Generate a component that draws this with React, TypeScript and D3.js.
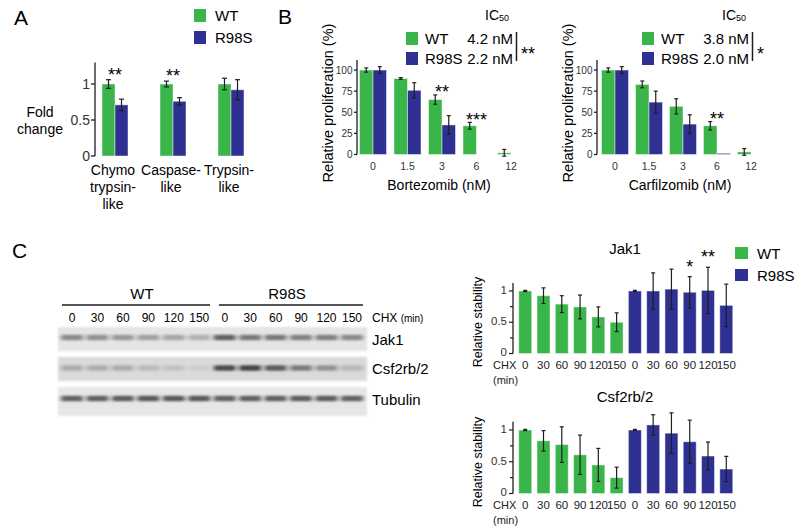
import React from "react";
import * as d3 from "d3";

const GREEN = "#3ab54a";
const BLUE = "#2e3192";
const INK = "#1e1e1e";
const FONT = "'Liberation Sans', Arial, Helvetica, sans-serif";

// ---------- Panel A ----------
const aCategories = ["Chymo trypsin-like", "Caspase-like", "Trypsin-like"];
const aCategoryLines = [["Chymo", "trypsin-", "like"], ["Caspase-", "like"], ["Trypsin-", "like"]];
const aWT = [1.0, 1.0, 1.0];
const aWTErr = [0.06, 0.04, 0.08];
const aR98S = [0.71, 0.76, 0.92];
const aR98SErr = [0.08, 0.05, 0.14];
const aStars = ["**", "**", ""];
const aYTicks = [0, 0.5, 1];
const aYTickLabels = ["0", "0.5", "1"];

// ---------- Panel B ----------
const doses = ["0", "1.5", "3", "6", "12"];
const bYTicks = [0, 25, 50, 75, 100];
const bortWT = [100, 90, 65, 34, 2];
const bortWTErr = [2.5, 1, 5.5, 4, 4];
const bortR98S: (number | null)[] = [100, 76, 35, null, null];
const bortR98SErr: (number | null)[] = [4, 9, 11, null, null];
const bortStars = ["", "", "**", "***", ""];
const bortIC50 = ["4.2 nM", "2.2 nM"];
const bortSig = "**";

const carfWT = [100, 83, 57, 34, 3];
const carfWTErr = [2.5, 4, 9, 5, 4];
const carfR98S: (number | null)[] = [100, 62, 36, 0, null];
const carfR98SErr: (number | null)[] = [4, 13, 11, 0, null];
const carfStars = ["", "", "", "**", ""];
const carfIC50 = ["3.8 nM", "2.0 nM"];
const carfSig = "*";

// ---------- Panel C : blot ----------
const chxTimes = ["0", "30", "60", "90", "120", "150"];
const jak1BandWT = [0.55, 0.5, 0.45, 0.4, 0.37, 0.3];
const jak1BandR98S = [0.8, 0.65, 0.65, 0.6, 0.6, 0.55];
const csfBandWT = [0.3, 0.28, 0.28, 0.2, 0.15, 0.07];
const csfBandR98S = [0.9, 0.95, 0.8, 0.6, 0.45, 0.22];
const tubBandWT = [0.8, 0.8, 0.82, 0.85, 0.85, 0.85];
const tubBandR98S = [0.8, 0.8, 0.8, 0.82, 0.82, 0.8];

// ---------- Panel C : stability ----------
const jak1WT = [1.0, 0.925, 0.79, 0.745, 0.585, 0.5];
const jak1WTErr = [0.01, 0.125, 0.135, 0.19, 0.16, 0.15];
const jak1R98S = [1.0, 1.0, 1.03, 0.98, 1.01, 0.77];
const jak1R98SErr = [0.01, 0.29, 0.32, 0.25, 0.37, 0.34];
const jak1Stars = ["", "", "", "*", "**", ""];

const csfWT = [1.0, 0.83, 0.77, 0.61, 0.45, 0.25];
const csfWTErr = [0.01, 0.16, 0.28, 0.31, 0.26, 0.165];
const csfR98S = [1.0, 1.08, 0.95, 0.815, 0.59, 0.385];
const csfR98SErr = [0.01, 0.16, 0.32, 0.34, 0.22, 0.2];
const csfStars = ["", "", "", "", "", ""];
const stabTicks = [0, 0.25, 0.5, 0.75, 1];

function ErrBar({ cx, top, bot, cap = 5 }: { cx: number; top: number; bot: number; cap?: number }) {
  return (
    <g stroke={INK} strokeWidth={1.2}>
      <line x1={cx} x2={cx} y1={top} y2={bot} />
      <line x1={cx - cap / 2} x2={cx + cap / 2} y1={top} y2={top} />
      <line x1={cx - cap / 2} x2={cx + cap / 2} y1={bot} y2={bot} />
    </g>
  );
}

function Bar({ x, w, y, y0, fill }: { x: number; w: number; y: number; y0: number; fill: string }) {
  const h = Math.max(y0 - y, 1.2);
  return <rect x={x} y={y0 - h} width={w} height={h} fill={fill} stroke="rgba(255,255,255,0.45)" strokeWidth={1} />;
}

function PanelA() {
  const x = d3.scalePoint<string>().domain(aCategories).range([115, 231]);
  const y = d3.scaleLinear().domain([0, 1.3]).range([156, 62.4]);
  const bw = 13;
  const axisX = 95;
  return (
    <g>
      <text x={14} y={25} fontSize={21}>A</text>
      <rect x={194} y={9} width={12} height={13} fill={GREEN} />
      <text x={215} y={21} fontSize={15}>WT</text>
      <rect x={194} y={31} width={12} height={13} fill={BLUE} />
      <text x={215} y={43} fontSize={15}>R98S</text>
      <line x1={axisX} x2={axisX} y1={y(0)} y2={y(1.3)} stroke={INK} strokeWidth={1.3} />
      {aYTicks.map((t, i) => (
        <g key={t}>
          <line x1={axisX - 4} x2={axisX} y1={y(t)} y2={y(t)} stroke={INK} strokeWidth={1.3} />
          <text x={axisX - 5} y={y(t) + 5} fontSize={14} textAnchor="end" fill="#333">{aYTickLabels[i]}</text>
        </g>
      ))}
      <text x={40} y={117} fontSize={14} textAnchor="middle">Fold</text>
      <text x={40} y={134} fontSize={14} textAnchor="middle">change</text>
      {aCategories.map((c, i) => {
        const cx = x(c)!;
        return (
          <g key={c}>
            <Bar x={cx - bw} w={bw} y={y(aWT[i])} y0={y(0)} fill={GREEN} />
            <Bar x={cx} w={bw} y={y(aR98S[i])} y0={y(0)} fill={BLUE} />
            <ErrBar cx={cx - bw / 2} top={y(aWT[i] + aWTErr[i])} bot={y(aWT[i] - aWTErr[i])} />
            <ErrBar cx={cx + bw / 2} top={y(aR98S[i] + aR98SErr[i])} bot={y(aR98S[i] - aR98SErr[i])} />
            {aStars[i] && (
              <text x={cx} y={y(Math.max(aWT[i] + aWTErr[i], aR98S[i] + aR98SErr[i])) + 1} fontSize={18} textAnchor="middle">{aStars[i]}</text>
            )}
            {aCategoryLines[i].map((ln, j) => (
              <text key={j} x={cx - 2} y={175 + j * 17} fontSize={14} textAnchor="middle">{ln}</text>
            ))}
          </g>
        );
      })}
    </g>
  );
}

type DoseProps = {
  axisX: number; c0: number; c1: number; wt: number[]; wtErr: number[];
  r98s: (number | null)[]; r98sErr: (number | null)[]; stars: string[];
  xTitle: string; yTitleX: number; legX: number; icX: number; valEnd: number; sig: string; ic50: string[];
};

function DoseChart(p: DoseProps) {
  const x = d3.scalePoint<string>().domain(doses).range([p.c0, p.c1]);
  const y = d3.scaleLinear().domain([0, 112]).range([154.5, 59.9]);
  const bw = 13.5;
  return (
    <g>
      <text x={p.icX} y={20} fontSize={14}>IC<tspan fontSize={9} dy={1}>50</tspan></text>
      <rect x={p.legX} y={32} width={12} height={13} fill={GREEN} />
      <text x={p.legX + 19} y={44} fontSize={15}>WT</text>
      <text x={p.valEnd} y={44} fontSize={15} textAnchor="end">{p.ic50[0]}</text>
      <rect x={p.legX} y={52} width={12} height={13} fill={BLUE} />
      <text x={p.legX + 19} y={64} fontSize={15}>R98S</text>
      <text x={p.valEnd} y={64} fontSize={15} textAnchor="end">{p.ic50[1]}</text>
      <line x1={p.valEnd + 3.5} x2={p.valEnd + 3.5} y1={32} y2={61} stroke={INK} strokeWidth={1.5} />
      <text x={p.valEnd + 8} y={60} fontSize={18}>{p.sig}</text>

      <line x1={p.axisX} x2={p.axisX} y1={y(0)} y2={y(112)} stroke={INK} strokeWidth={1.3} />
      {bYTicks.map((t) => (
        <g key={t}>
          <line x1={p.axisX - 3} x2={p.axisX} y1={y(t)} y2={y(t)} stroke={INK} strokeWidth={1.3} />
          <text x={p.axisX - 4.5} y={y(t) + 3.6} fontSize={10} textAnchor="end" fill="#333">{t}</text>
        </g>
      ))}
      {doses.map((d, i) => {
        const cx = x(d)!;
        const r = p.r98s[i];
        const re = p.r98sErr[i];
        const tops = [p.wt[i] + p.wtErr[i]];
        if (r !== null && re !== null) tops.push(r + re);
        return (
          <g key={d}>
            <Bar x={cx - bw} w={bw} y={y(p.wt[i])} y0={y(0)} fill={GREEN} />
            {r !== null && <Bar x={cx} w={bw} y={y(r)} y0={y(0)} fill={BLUE} />}
            <ErrBar cx={cx - bw / 2} top={y(p.wt[i] + p.wtErr[i])} bot={y(p.wt[i] - p.wtErr[i])} cap={4} />
            {r !== null && re !== null && re > 0 && (
              <ErrBar cx={cx + bw / 2} top={y(r + re)} bot={y(r - re)} cap={4} />
            )}
            {p.stars[i] && (
              <text x={cx} y={y(Math.max(...tops)) + 3.5} fontSize={18} textAnchor="middle">{p.stars[i]}</text>
            )}
            <text x={cx} y={170} fontSize={10.5} textAnchor="middle" fill="#333">{d}</text>
          </g>
        );
      })}
      <text x={(p.c0 + p.c1) / 2 - 3} y={190} fontSize={14} textAnchor="middle">{p.xTitle}</text>
      <text transform={`translate(${p.yTitleX},103) rotate(-90)`} fontSize={14.5} textAnchor="middle">Relative proliferation (%)</text>
    </g>
  );
}

function Blot() {
  const lanes = d3.range(12).map(String);
  const lx = d3.scalePoint<string>().domain(lanes).range([72, 352]);
  const rows = [
    { label: "Jak1", y0: 327, y1: 351, by: 337.5, bg: "#e4e4e4", vals: [...jak1BandWT, ...jak1BandR98S], ly: 345 },
    { label: "Csf2rb/2", y0: 357, y1: 381, by: 368, bg: "#dadada", vals: [...csfBandWT, ...csfBandR98S], ly: 374 },
    { label: "Tubulin", y0: 387, y1: 416, by: 398.5, bg: "#e6e6e6", vals: [...tubBandWT, ...tubBandR98S], ly: 405 },
  ];
  const times = [...chxTimes, ...chxTimes];
  return (
    <g>
      <defs>
        <filter id="bandBlur" x="-50%" y="-100%" width="200%" height="300%">
          <feGaussianBlur stdDeviation="2 1.3" />
        </filter>
        <filter id="boxBlur" x="-5%" y="-20%" width="110%" height="140%">
          <feGaussianBlur stdDeviation="0.8" />
        </filter>
      </defs>
      <text x={12} y={258} fontSize={21}>C</text>
      <text x={142} y={299} fontSize={15} textAnchor="middle">WT</text>
      <text x={287} y={299} fontSize={15} textAnchor="middle">R98S</text>
      <line x1={62} x2={210} y1={305} y2={305} stroke={INK} strokeWidth={1.5} />
      <line x1={219} x2={363} y1={305} y2={305} stroke={INK} strokeWidth={1.5} />
      {lanes.map((l, i) => (
        <text key={l} x={lx(l)!} y={322} fontSize={12} textAnchor="middle">{times[i]}</text>
      ))}
      <text x={372} y={322} fontSize={12}>CHX <tspan fontSize={10}>(min)</tspan></text>
      {rows.map((r) => (
        <g key={r.label}>
          <rect x={58} y={r.y0} width={309} height={r.y1 - r.y0} fill={r.bg} filter="url(#boxBlur)" />
          {lanes.map((l, i) => (
            <rect key={l} x={lx(l)! - 11} y={r.by - 2.8} width={22} height={5.6} rx={2}
              fill="#222" opacity={r.vals[i] * 0.85} filter="url(#bandBlur)" />
          ))}
          <text x={372} y={r.ly} fontSize={15}>{r.label}</text>
        </g>
      ))}
    </g>
  );
}

type StabProps = { title: string; base: number; unit: number; titleY: number; wt: number[]; wtErr: number[]; r98s: number[]; r98sErr: number[]; stars: string[] };

function StabilityChart(p: StabProps) {
  const idx = d3.range(12).map(String);
  const x = d3.scaleBand<string>().domain(idx).range([516, 735.5]).paddingInner(0.29).paddingOuter(0.15);
  const y = d3.scaleLinear().domain([0, 1.13]).range([p.base, p.base - 1.13 * p.unit]);
  const vals = [...p.wt, ...p.r98s];
  const errs = [...p.wtErr, ...p.r98sErr];
  const stars = [...chxTimes.map(() => ""), ...p.stars];
  const labels = [...chxTimes, ...chxTimes];
  const axisX = 513;
  return (
    <g>
      <text x={625} y={p.titleY} fontSize={15} textAnchor="middle">{p.title}</text>
      <line x1={axisX} x2={axisX} y1={y(0)} y2={y(1.13)} stroke={INK} strokeWidth={1.3} />
      {stabTicks.map((t) => (
        <line key={t} x1={axisX - (t * 2 % 1 === 0 ? 4 : 3)} x2={axisX} y1={y(t)} y2={y(t)} stroke={INK} strokeWidth={1.2} />
      ))}
      {[0, 0.5, 1].map((t) => (
        <text key={t} x={axisX - 6} y={y(t) + 2.8} fontSize={11.5} textAnchor="end" fill="#333">{t}</text>
      ))}
      {idx.map((k, i) => {
        const bx = x(k)!;
        const bw = x.bandwidth();
        const fill = i < 6 ? GREEN : BLUE;
        return (
          <g key={k}>
            <Bar x={bx} w={bw} y={y(vals[i])} y0={y(0)} fill={fill} />
            <ErrBar cx={bx + bw / 2} top={y(vals[i] + errs[i])} bot={y(vals[i] - errs[i])} cap={4} />
            {stars[i] && (
              <text x={bx + bw / 2} y={y(vals[i] + errs[i]) - 4} fontSize={18} textAnchor="middle">{stars[i]}</text>
            )}
            <text x={bx + bw / 2} y={y(0) + 15} fontSize={11.5} textAnchor="middle" fill="#222">{labels[i]}</text>
          </g>
        );
      })}
      <text x={493} y={y(0) + 15.5} fontSize={11} fill="#222">CHX</text>
      <text x={493} y={y(0) + 30.5} fontSize={11} fill="#222">(min)</text>
      <text transform={`translate(482,${p.base - 31.5}) rotate(-90)`} fontSize={12.5} textAnchor="middle">Relative stability</text>
    </g>
  );
}

export default function App() {
  return (
    <div style={{ position: "absolute", left: 0, top: 0 }}>
      <svg width={800} height={531} style={{ display: "block", background: "#fff" }} fontFamily={FONT}>
        <PanelA />
        <text x={278} y={24} fontSize={21}>B</text>
        <DoseChart axisX={357} c0={373} c1={511} wt={bortWT} wtErr={bortWTErr} r98s={bortR98S} r98sErr={bortR98SErr}
          stars={bortStars} xTitle="Bortezomib (nM)" yTitleX={333} legX={406} icX={485} valEnd={513} sig={bortSig} ic50={bortIC50} />
        <DoseChart axisX={597} c0={615} c1={751} wt={carfWT} wtErr={carfWTErr} r98s={carfR98S} r98sErr={carfR98SErr}
          stars={carfStars} xTitle="Carfilzomib (nM)" yTitleX={573} legX={642} icX={722} valEnd={749} sig={carfSig} ic50={carfIC50} />
        <Blot />
        <StabilityChart title="Jak1" base={353.5} unit={62.5} titleY={254} wt={jak1WT} wtErr={jak1WTErr}
          r98s={jak1R98S} r98sErr={jak1R98SErr} stars={jak1Stars} />
        <StabilityChart title="Csf2rb/2" base={493.5} unit={63.5} titleY={402} wt={csfWT} wtErr={csfWTErr}
          r98s={csfR98S} r98sErr={csfR98SErr} stars={csfStars} />
        <rect x={735} y={247} width={13} height={12} fill={GREEN} />
        <text x={757} y={259} fontSize={15}>WT</text>
        <rect x={735} y={269} width={13} height={12} fill={BLUE} />
        <text x={757} y={281} fontSize={15}>R98S</text>
      </svg>
    </div>
  );
}
